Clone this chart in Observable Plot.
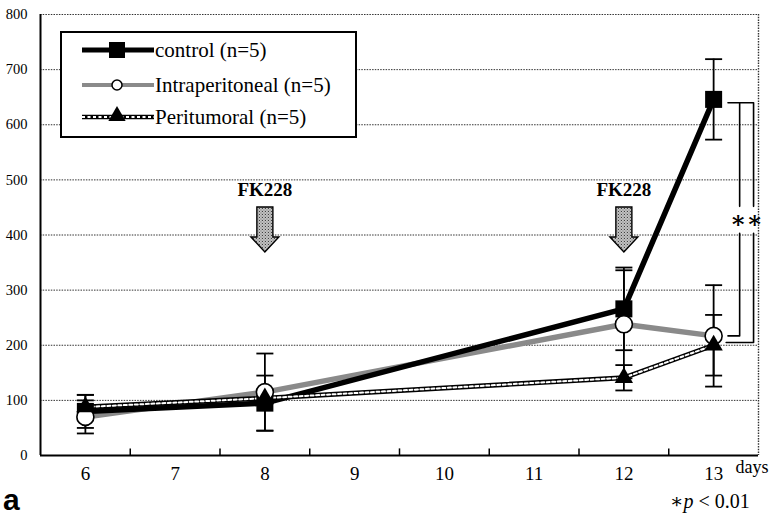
<!DOCTYPE html>
<html><head><meta charset="utf-8">
<script src="https://cdn.jsdelivr.net/npm/d3@7"></script>
<script src="https://cdn.jsdelivr.net/npm/@observablehq/plot@0.6"></script>
<style>
body{margin:0;background:#fff;}
#wrap{position:relative;width:773px;height:516px;font-family:'Liberation Serif','DejaVu Serif',serif;}
#wrap svg{display:block;}
#wrap svg text{font-family:'Liberation Serif','DejaVu Serif',serif;}
.ov{position:absolute;white-space:nowrap;}
</style></head><body>
<div id="wrap"></div>
<script>
// ---- data ----
const days = [6, 7, 8, 9, 10, 11, 12, 13];
const measuredDays = [6, 8, 12, 13];
const controlMean = [80, 95, 266, 646];
const controlSD = [30, 50, 75, 73];
const intraMean = [70, 115, 238, 217];
const intraSD = [30, 70, 98, 92];
const periMean = [88, 104, 141, 200];
const periSD = [22, 10, 23, 55];
const yTicks = [0, 100, 200, 300, 400, 500, 600, 700, 800];
const seriesNames = ["control (n=5)", "Intraperitoneal (n=5)", "Peritumoral (n=5)"];
const treatmentDays = [8, 12];
const treatmentLabel = "FK228";
const unitLabel = "days";

// ---- helpers ----
const xIndex = d => days.indexOf(d) + 0.5;
const rows = (mean, sd) => measuredDays.map((d, i) => ({x: xIndex(d), y: mean[i], lo: mean[i] - sd[i], hi: mean[i] + sd[i]}));
const ctrl = rows(controlMean, controlSD);
const ip = rows(intraMean, intraSD);
const pt = rows(periMean, periSD);
const allRows = [...ctrl, ...ip, ...pt];

const capSymbol = {draw(ctx, size) { const w = Math.sqrt(size) / 2; ctx.moveTo(-w, 0); ctx.lineTo(w, 0); }};
const arrowSymbol = {draw(ctx) {
  ctx.moveTo(-8, -22); ctx.lineTo(8, -22); ctx.lineTo(8, 8); ctx.lineTo(14, 8);
  ctx.lineTo(0, 23); ctx.lineTo(-14, 8); ctx.lineTo(-8, 8); ctx.closePath();
}};

// annotation rows
const fkRows = treatmentDays.map(d => ({x: xIndex(d), label: treatmentLabel}));
const last = measuredDays.length - 1;
const x13 = xIndex(measuredDays[last]);
const c13 = controlMean[last], i13 = intraMean[last], p13 = periMean[last];
const gapTop = 452, gapBot = 403, starY = 427;
const bracketPts = [
  {id: "a1", x: x13 + 0.16, y: c13 - 6}, {id: "a1", x: x13 + 0.29, y: c13 - 6}, {id: "a1", x: x13 + 0.29, y: gapTop},
  {id: "a2", x: x13 + 0.29, y: gapBot}, {id: "a2", x: x13 + 0.29, y: i13}, {id: "a2", x: x13 + 0.16, y: i13},
  {id: "b1", x: x13 + 0.29, y: c13 - 6}, {id: "b1", x: x13 + 0.445, y: c13 - 6}, {id: "b1", x: x13 + 0.445, y: gapTop},
  {id: "b2", x: x13 + 0.445, y: gapBot}, {id: "b2", x: x13 + 0.445, y: p13 + 5}, {id: "b2", x: x13 + 0.14, y: p13 + 5}
];
const stars = [{x: x13 + 0.275}, {x: x13 + 0.46}];

const serif = "'Liberation Serif', 'DejaVu Serif', serif";

const chart = Plot.plot({
  width: 773, height: 516,
  marginLeft: 40, marginRight: 15, marginTop: 14, marginBottom: 61,
  style: {fontFamily: serif, color: "black", background: "white"},
  x: {domain: [0, days.length], axis: null},
  y: {domain: [0, 800], axis: null},
  marks: [
    Plot.ruleY(yTicks.filter(v => v > 0), {stroke: "#333", strokeDasharray: "1.5,1.2", strokeWidth: 1}),
    Plot.ruleX([days.length], {stroke: "#333", strokeDasharray: "1.5,1.2", strokeWidth: 1.4}),
    Plot.axisY({ticks: yTicks, tickSize: 0, tickPadding: 13, fontSize: 14.5, label: null}),
    Plot.axisX({ticks: days.map(xIndex), tickFormat: v => days[Math.floor(v)], tickSize: 0, tickPadding: 11, fontSize: 19, label: null}),
    Plot.ruleX(d3.range(1, days.length), {y1: 0, y2: 12, strokeWidth: 1.5}),
    Plot.ruleY([0], {strokeWidth: 2}),
    Plot.ruleX([0], {strokeWidth: 2}),
    Plot.text([unitLabel], {frameAnchor: "bottom-right", textAnchor: "start", dx: -23, dy: 17, fontSize: 18}),
    // error bars
    Plot.ruleX(allRows, {x: "x", y1: "lo", y2: "hi", strokeWidth: 1.8}),
    Plot.dot(allRows, {x: "x", y: "hi", symbol: capSymbol, r: 9.6, fill: "none", stroke: "black", strokeWidth: 1.8}),
    Plot.dot(allRows, {x: "x", y: "lo", symbol: capSymbol, r: 9.6, fill: "none", stroke: "black", strokeWidth: 1.8}),
    // lines
    Plot.line(ip, {x: "x", y: "y", stroke: "#8a8a8a", strokeWidth: 5.5}),
    Plot.line(ctrl, {x: "x", y: "y", stroke: "black", strokeWidth: 5.5}),
    Plot.line(pt, {x: "x", y: "y", stroke: "black", strokeWidth: 5}),
    Plot.line(pt, {x: "x", y: "y", stroke: "white", strokeWidth: 2, strokeDasharray: "3,2.5"}),
    // markers
    Plot.dot(ctrl, {x: "x", y: "y", symbol: "square", r: 9.6, fill: "black"}),
    Plot.dot(ip, {x: "x", y: "y", symbol: "circle", r: 8.5, fill: "white", stroke: "black", strokeWidth: 1.6}),
    Plot.dot(pt, {x: "x", y: "y", symbol: "triangle", r: 6.8, fill: "black"}),
    // FK228 annotations
    Plot.text(fkRows, {x: "x", y: 481, text: "label", fontSize: 19, fontWeight: "bold"}),
    Plot.dot(fkRows, {x: "x", y: 411, symbol: arrowSymbol, fill: "url(#hatch)", stroke: "black", strokeWidth: 1.4}),
    // significance brackets
    Plot.line(bracketPts, {x: "x", y: "y", z: "id", stroke: "black", strokeWidth: 1.6}),
    Plot.text(stars, {x: "x", y: starY, text: () => "∗", fontSize: 24, fontWeight: "bold"})
  ]
});

const defs = d3.select(chart).insert("defs", ":first-child");
const pat = defs.append("pattern").attr("id", "hatch").attr("patternUnits", "userSpaceOnUse").attr("width", 3).attr("height", 3);
pat.append("rect").attr("width", 3).attr("height", 3).attr("fill", "#c8c8c8");
pat.append("rect").attr("width", 1).attr("height", 1).attr("fill", "#222");
pat.append("rect").attr("x", 1.5).attr("y", 1.5).attr("width", 1).attr("height", 1).attr("fill", "#555");

const wrap = document.getElementById("wrap");
wrap.appendChild(chart);

// legend (inside the plot area, top-left)
const lg = d3.select(wrap).append("svg").attr("class", "ov")
  .style("left", "60px").style("top", "31px").attr("width", 298).attr("height", 108);
lg.append("rect").attr("x", 1).attr("y", 1).attr("width", 295).attr("height", 105).attr("fill", "white").attr("stroke", "black").attr("stroke-width", 2);
const ly = [19, 54, 86];
const lx1 = 22, lx2 = 94, lm = 57;
// control
lg.append("line").attr("x1", lx1).attr("x2", lx2).attr("y1", ly[0]).attr("y2", ly[0]).attr("stroke", "black").attr("stroke-width", 5);
lg.append("rect").attr("x", lm - 8).attr("y", ly[0] - 8).attr("width", 16).attr("height", 16).attr("fill", "black");
// intraperitoneal
lg.append("line").attr("x1", lx1).attr("x2", lx2).attr("y1", ly[1]).attr("y2", ly[1]).attr("stroke", "#8a8a8a").attr("stroke-width", 4);
lg.append("circle").attr("cx", lm).attr("cy", ly[1]).attr("r", 5).attr("fill", "white").attr("stroke", "black").attr("stroke-width", 1.5);
// peritumoral
lg.append("line").attr("x1", lx1).attr("x2", lx2).attr("y1", ly[2]).attr("y2", ly[2]).attr("stroke", "black").attr("stroke-width", 4.5);
lg.append("line").attr("x1", lx1).attr("x2", lx2).attr("y1", ly[2]).attr("y2", ly[2]).attr("stroke", "white").attr("stroke-width", 1.8).attr("stroke-dasharray", "3,2.5");
lg.append("path").attr("d", d3.symbol(d3.symbolTriangle, 130)()).attr("transform", `translate(${lm},${ly[2] - 1})`).attr("fill", "black");
seriesNames.forEach((n, i) => {
  lg.append("text").attr("x", lx2 + 1).attr("y", ly[i]).attr("dy", "0.35em")
    .style("font-family", serif).attr("font-size", 21).text(n);
});

// panel letter and footnote
const a = document.createElement("div");
a.className = "ov"; a.textContent = "a";
Object.assign(a.style, {left: "3px", top: "485px", fontFamily: "'Liberation Sans', Arial, sans-serif", fontWeight: "bold", fontSize: "30px", lineHeight: "30px"});
wrap.appendChild(a);
const p = document.createElement("div");
p.className = "ov";
p.innerHTML = "∗<i>p</i> &lt; 0.01";
Object.assign(p.style, {left: "670px", top: "491px", fontFamily: serif, fontSize: "20px", lineHeight: "20px"});
wrap.appendChild(p);
</script>
</body></html>
